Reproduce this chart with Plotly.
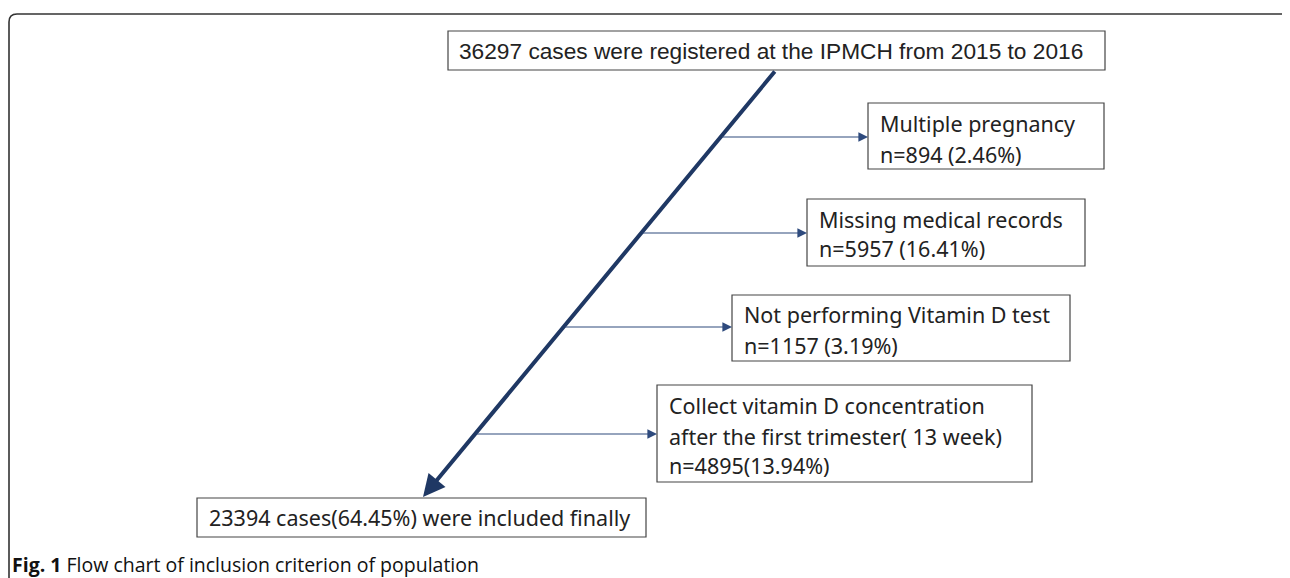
import plotly.graph_objects as go

# ---- data ----
total_cases = 36297
period = ("2015", "2016")
exclusion_labels = [
    ["Multiple pregnancy"],
    ["Missing medical records"],
    ["Not performing Vitamin D test"],
    ["Collect vitamin D concentration", "after the first trimester( 13 week)"],
]
exclusion_counts = [894, 5957, 1157, 4895]
exclusion_pcts = ["2.46", "16.41", "3.19", "13.94"]
exclusion_sep = [" ", " ", " ", ""]
final_cases = 23394
final_pct = "64.45"
caption_bold = "Fig. 1"
caption_text = " Flow chart of inclusion criterion of population"

# ---- geometry (pixel layout, page coordinates) ----
W, H = 1290, 578
OFF = 8  # default page body margin
top_box = (448, 31, 1105, 70)
ex_boxes = [(868, 103, 1104, 169), (807, 199, 1085, 266), (732, 295, 1070, 361), (657, 385, 1032, 482)]
ex_line_y = [[123, 154], [219, 248], [314, 345], [405, 436, 465]]
bottom_box = (197, 498, 646, 537)
main_start = (776, 70)
main_end = (423, 497)
side_y = [137, 233, 327, 434]

NAVY = "#1f3864"
THIN = "#2e4a7d"
TXT = "#222222"
FONT = "Noto Sans"

fig = go.Figure()
shapes = []
ann = []

# outer frame
shapes.append(dict(type="path", xref="x", yref="y",
                   path="M 9 600 L 9 22 Q 9 14 17 14 L 1286 14 Q 1292 14 1294 20",
                   line=dict(color="#333333", width=1.6)))

def box(b):
    shapes.append(dict(type="rect", xref="x", yref="y", x0=b[0], y0=b[1], x1=b[2], y1=b[3],
                       line=dict(color="#444444", width=1.2), fillcolor="white"))

box(top_box)
for b in ex_boxes:
    box(b)
box(bottom_box)

# top text
ann.append(dict(x=top_box[0] + 9, y=(top_box[1] + top_box[3]) / 2, xref="x", yref="y",
                text=f"{total_cases} cases were registered at the IPMCH from {period[0]} to {period[1]}",
                showarrow=False, xanchor="left", yanchor="middle",
                font=dict(family="Liberation Sans Narrow, Arial Narrow, Liberation Sans, sans-serif",
                          size=22.7, color=TXT)))

# main arrow
ann.append(dict(x=main_end[0], y=main_end[1], ax=main_start[0], ay=main_start[1],
                xref="x", yref="y", axref="x", ayref="y", text="", showarrow=True,
                arrowhead=2, arrowsize=1.1, arrowwidth=4, arrowcolor=NAVY))

def main_x(y):
    t = (y - main_start[1]) / (main_end[1] - main_start[1])
    return main_start[0] + t * (main_end[0] - main_start[0])

for i, b in enumerate(ex_boxes):
    y = side_y[i]
    ann.append(dict(x=b[0], y=y, ax=main_x(y), ay=y, xref="x", yref="y", axref="x", ayref="y",
                    text="", showarrow=True, arrowhead=2, arrowsize=1.6, arrowwidth=1.2,
                    arrowcolor=THIN, standoff=0))
    lines = exclusion_labels[i] + [f"n={exclusion_counts[i]}{exclusion_sep[i]}({exclusion_pcts[i]}%)"]
    for ln, ly in zip(lines, ex_line_y[i]):
        ann.append(dict(x=b[0] + 10, y=ly, xref="x", yref="y", text=ln, showarrow=False,
                        xanchor="left", yanchor="middle",
                        font=dict(family=FONT, size=21.5, color=TXT)))

ann.append(dict(x=bottom_box[0] + 10, y=(bottom_box[1] + bottom_box[3]) / 2, xref="x", yref="y",
                text=f"{final_cases} cases({final_pct}%) were included finally", showarrow=False,
                xanchor="left", yanchor="middle", font=dict(family=FONT, size=21.5, color=TXT)))

ann.append(dict(x=10, y=564, xref="x", yref="y",
                text=f"<b>{caption_bold}</b>{caption_text}", showarrow=False,
                xanchor="left", yanchor="middle",
                font=dict(family="Open Sans", size=19.5, color="#111111")))

fig.update_layout(width=W - OFF, height=H - OFF, margin=dict(l=0, r=0, t=0, b=0),
                  paper_bgcolor="white", plot_bgcolor="white",
                  shapes=shapes, annotations=ann, showlegend=False,
                  xaxis=dict(range=[OFF, W], visible=False, fixedrange=True),
                  yaxis=dict(range=[H, OFF], visible=False, fixedrange=True))
fig.write_html("out.html")
